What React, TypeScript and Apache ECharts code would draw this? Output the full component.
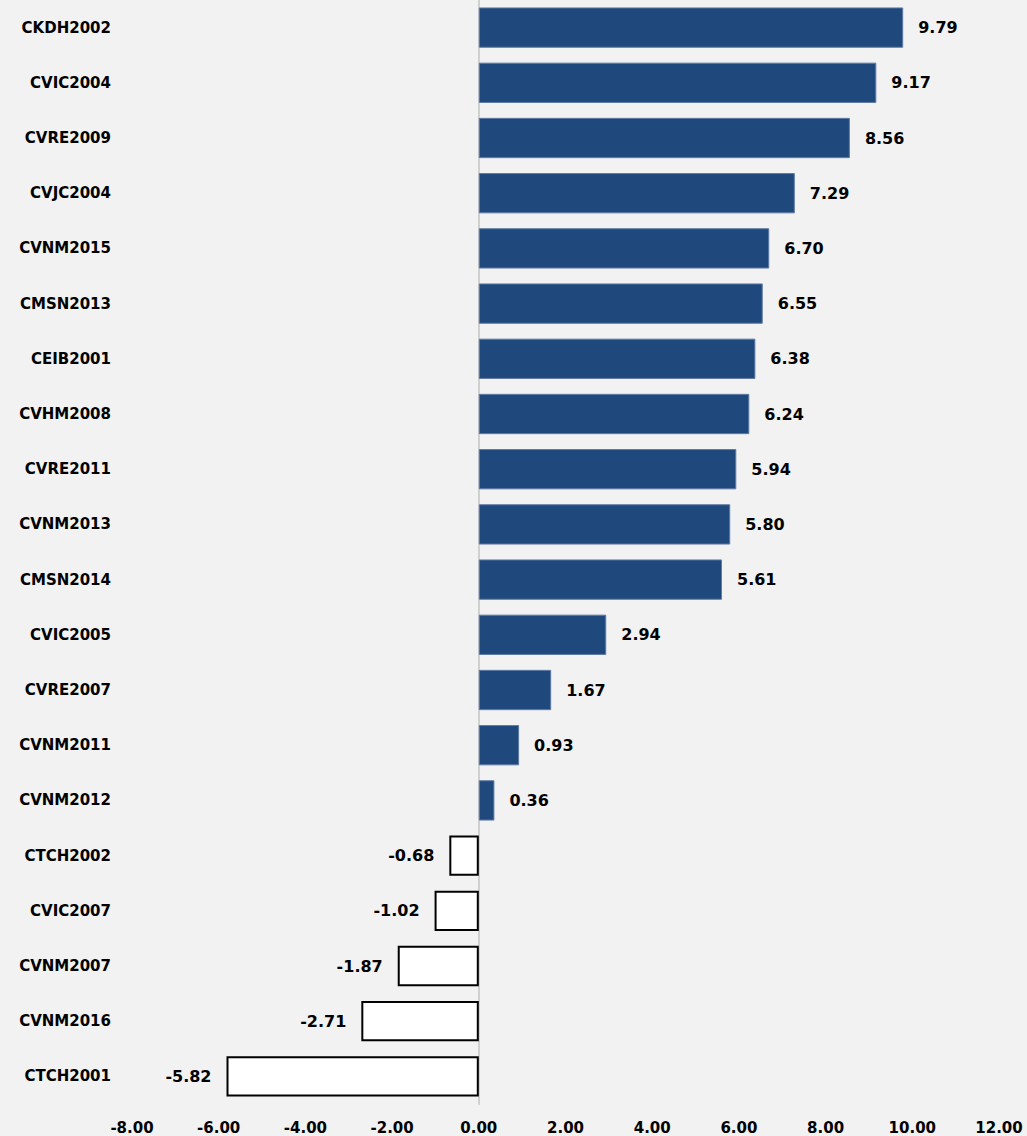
import React, { useEffect, useRef } from "react";
import * as echarts from "echarts";

const categories = [
  "CKDH2002", "CVIC2004", "CVRE2009", "CVJC2004", "CVNM2015", "CMSN2013", "CEIB2001",
  "CVHM2008", "CVRE2011", "CVNM2013", "CMSN2014", "CVIC2005", "CVRE2007", "CVNM2011",
  "CVNM2012", "CTCH2002", "CVIC2007", "CVNM2007", "CVNM2016", "CTCH2001",
];
const values = [
  9.79, 9.17, 8.56, 7.29, 6.7, 6.55, 6.38, 6.24, 5.94, 5.8, 5.61, 2.94, 1.67, 0.93, 0.36,
  -0.68, -1.02, -1.87, -2.71, -5.82,
];
const xMin = -8;
const xMax = 12;
const xStep = 2;

export default function App() {
  const ref = useRef<HTMLDivElement>(null);
  useEffect(() => {
    document.body.style.margin = "0";
    document.body.style.background = "#f2f2f2";
    const chart = echarts.init(ref.current!, null, { renderer: "svg" });
    const font = "DejaVu Sans";
    chart.setOption({
      animation: false,
      backgroundColor: "#f2f2f2",
      grid: { left: 132, right: 28, top: 0, bottom: 32, containLabel: false },
      xAxis: {
        type: "value",
        min: xMin,
        max: xMax,
        interval: xStep,
        axisLine: { show: false },
        axisTick: { show: false },
        splitLine: { show: false },
        axisLabel: {
          margin: 16,
          color: "#000",
          fontFamily: font,
          fontWeight: "bold",
          fontSize: 15,
          formatter: (v: number) => v.toFixed(2),
        },
      },
      yAxis: {
        type: "category",
        inverse: true,
        data: categories,
        axisLine: { show: true, onZero: true, lineStyle: { color: "#d0d0d0", width: 2 } },
        axisTick: { show: false },
        axisLabel: {
          margin: 21,
          color: "#000",
          fontFamily: font,
          fontWeight: "bold",
          fontSize: 15,
        },
      },
      series: [
        {
          type: "bar",
          barCategoryGap: "27%",
          z: 3,
          data: values.map((v) => ({
            value: v,
            itemStyle:
              v >= 0
                ? { color: "#1f497d", borderColor: "#5f7ba5", borderWidth: 1 }
                : { color: "#ffffff", borderColor: "#000000", borderWidth: 2 },
            label: { position: v >= 0 ? "right" : "left" },
          })),
          label: {
            show: true,
            distance: 15,
            color: "#000",
            fontFamily: font,
            fontWeight: "bold",
            fontSize: 16,
            formatter: (p: any) => Number(p.value).toFixed(2),
          },
        },
      ],
    });
    return () => chart.dispose();
  }, []);
  return <div ref={ref} style={{ width: 1027, height: 1136 }} />;
}
